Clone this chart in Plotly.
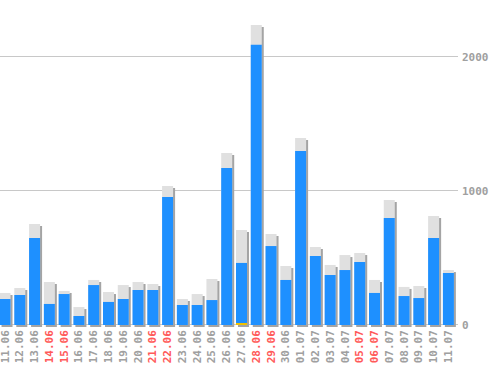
import plotly.graph_objects as go

dates = ["11.06","12.06","13.06","14.06","15.06","16.06","17.06","18.06","19.06","20.06",
         "21.06","22.06","23.06","24.06","25.06","26.06","27.06","28.06","29.06","30.06",
         "01.07","02.07","03.07","04.07","05.07","06.07","07.07","08.07","09.07","10.07","11.07"]
weekends = ["14.06","15.06","21.06","22.06","28.06","29.06","05.07","06.07"]
totals = [239,276,754,321,254,134,336,246,298,321,
          306,1037,194,231,343,1283,709,2238,679,440,
          1395,582,448,522,537,336,933,284,291,813,410]
blue = [194,224,649,157,231,67,298,172,194,261,
        261,955,149,149,186,1171,463,2092,589,336,
        1298,515,373,410,470,239,798,216,201,649,388]
yellow = [0,0,0,0,0,0,0,0,0,0,
          0,0,0,0,0,0,9,0,0,0,
          0,0,0,0,0,0,0,0,0,0,0]
tick_labels = [f'<span style="color:#ff5a5a">{d}</span>' if d in weekends else d for d in dates]

W = 0.745
SH = 0.135
fig = go.Figure()
fig.add_bar(x=dates, y=totals, base=-15, width=W, offset=-W/2 + SH,
            marker=dict(color="#a4a4a4", line_width=0), hoverinfo="skip")
fig.add_bar(x=dates, y=totals, width=W, offset=-W/2,
            marker=dict(color="#e0e0e0", line_width=0))
fig.add_bar(x=dates, y=blue, width=W, offset=-W/2,
            marker=dict(color="#1e90ff", line_width=0))
fig.add_bar(x=dates, y=yellow, width=W, offset=-W/2,
            marker=dict(color="#f0c000", line_width=0))

tf = dict(family="DejaVu Sans Mono", size=11, color="#a0a0a0", weight="bold")
fig.update_layout(
    width=498, height=370,
    margin=dict(l=0, r=40, t=0, b=43, autoexpand=False),
    barmode="overlay",
    showlegend=False,
    plot_bgcolor="white", paper_bgcolor="white",
    font=dict(family="DejaVu Sans Mono", size=11, color="#a0a0a0"),
)
fig.update_xaxes(type="category", categoryorder="array", categoryarray=dates,
                 tickvals=dates, ticktext=tick_labels, tickangle=-90, automargin=False,
                 range=[-0.34, 30.65], showgrid=False, zeroline=False, showline=False,
                 ticks="", tickfont=tf)
fig.update_yaxes(side="right", range=[-15, 2425], tickvals=[0, 1000, 2000], automargin=False,
                 showgrid=True, gridcolor="#c8c8c8", gridwidth=1, zeroline=False,
                 showline=False, ticks="", ticklabelstandoff=3,
                 tickfont=tf)
fig.write_html("out.html", config={"displayModeBar": False},
               post_script="document.body.style.margin='0';document.body.style.overflow='hidden';")
